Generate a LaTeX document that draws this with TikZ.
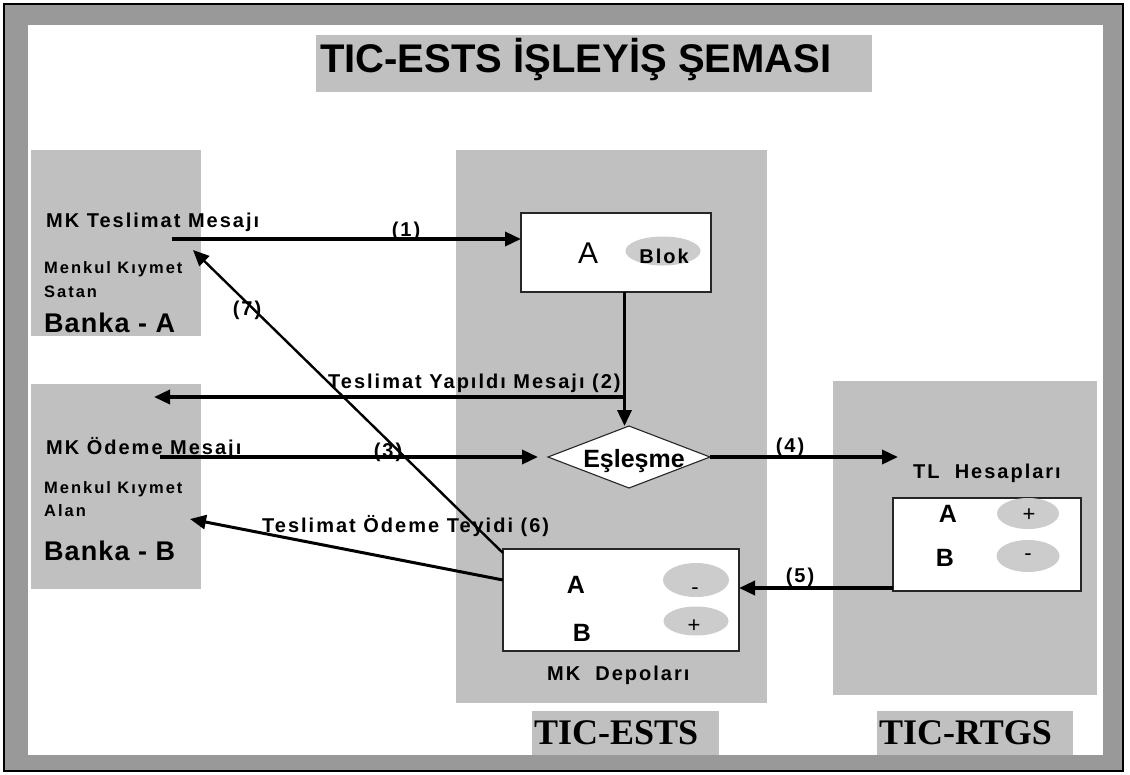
\documentclass[tikz,border=0pt]{standalone}
\usepackage{fontspec}
\setmainfont{Liberation Sans}
\newfontfamily\lsfont[LetterSpace=10]{Liberation Sans}
\newfontfamily\lsmid[LetterSpace=12]{Liberation Sans}
\newfontfamily\lsmall[LetterSpace=4]{Liberation Sans}
\newfontfamily\serifbold{Liberation Serif}
\usetikzlibrary{shapes.geometric,arrows.meta}
\definecolor{framegray}{HTML}{999999}
\definecolor{panelgray}{HTML}{C0C0C0}
\definecolor{ovalgray}{HTML}{CCCCCC}
\tikzset{
  whitebox/.style={rectangle, draw=black!85, line width=1.1pt, fill=white, inner sep=0pt, outer sep=0pt, anchor=north west},
  ovalshape/.style={ellipse, fill=ovalgray, draw=none, inner sep=0pt},
  lbl/.style={font=\lsfont\bfseries\fontsize{20}{23}\selectfont, inner sep=0pt},
  mid/.style={font=\lsmid\bfseries\fontsize{16.5}{19}\selectfont, inner sep=0pt, anchor=base west},
  bank/.style={font=\lsmall\bfseries\fontsize{27}{31}\selectfont, inner sep=0pt, anchor=base west},
  letter/.style={font=\bfseries\fontsize{25}{30}\selectfont, inner sep=0pt, anchor=base},
  sign/.style={font=\fontsize{22}{26}\selectfont, inner sep=0pt, anchor=base},
  syslabel/.style={font=\serifbold\bfseries\fontsize{36}{40}\selectfont, inner sep=0pt, anchor=base west},
  arr/.style={line width=3.5pt, -{Triangle[length=16pt,width=14pt]}},
  arrsix/.style={line width=3pt, -{Triangle[length=16pt,width=14pt]}},
  arrseven/.style={line width=2.4pt, -{Triangle[length=16pt,width=14pt]}}
}
\begin{document}
\begin{tikzpicture}[x=1pt,y=-1pt]
\path[use as bounding box] (0,0) rectangle (1130,774);
% frame
\draw[line width=2pt, fill=framegray] (3.5,3.5) rectangle (1123,771);
\fill[white] (28,25) rectangle (1103,755);
% panels
\fill[panelgray] (316,35) rectangle (872,92);
\fill[panelgray] (31,150) rectangle (201,336);
\fill[panelgray] (31,384) rectangle (201,589);
\fill[panelgray] (456,150) rectangle (767,703);
\fill[panelgray] (833,381) rectangle (1097,695);
\fill[panelgray] (532,711) rectangle (719,755);
\fill[panelgray] (877,711) rectangle (1073,755);
% title
\node[anchor=base west, inner sep=0pt, font=\bfseries\fontsize{40}{48}\selectfont] (title) at (320,72) {TIC-ESTS İŞLEYİŞ ŞEMASI};
% left texts
\node[lbl, anchor=base west] (msgA) at (46,227) {MK Teslimat Mesajı};
\node[mid] (mkA1) at (44,273) {Menkul Kıymet};
\node[mid] (mkA2) at (44,297) {Satan};
\node[bank] (bankA) at (44,332) {Banka - A};
\node[lbl, anchor=base west] (msgB) at (46,454) {MK Ödeme Mesajı};
\node[mid] (mkB1) at (44,493) {Menkul Kıymet};
\node[mid] (mkB2) at (44,516) {Alan};
\node[bank] (bankB) at (44,560) {Banka - B};
% boxes
\node[whitebox, minimum width=190pt, minimum height=79pt] (blokbox) at (521,213) {};
\node[ovalshape, minimum width=75pt, minimum height=29pt] (blokov) at (663,251) {};
\node[anchor=base, inner sep=0pt, font=\fontsize{30}{36}\selectfont] (blokA) at (588,263) {A};
\node[lbl, anchor=base] (blokt) at (664,263) {Blok};
\node[diamond, draw=black!85, line width=1.1pt, fill=white, minimum width=162pt, minimum height=62pt, inner sep=0pt, outer sep=0pt, shape aspect=2.6] (esl) at (629,457) {};
\node[font=\bfseries\fontsize{25}{28}\selectfont, anchor=base, inner sep=0pt] (eslt) at (634,467) {Eşleşme};
\node[whitebox, minimum width=236pt, minimum height=102pt] (mkbox) at (503,549) {};
\node[ovalshape, minimum width=66pt, minimum height=34pt] (mkov1) at (696,580) {};
\node[ovalshape, minimum width=65pt, minimum height=29pt] (mkov2) at (696,621) {};
\node[letter] (mkA) at (576,593) {A};
\node[letter] (mkB) at (582,641) {B};
\node[sign] (mks1) at (695,594) {-};
\node[sign] (mks2) at (694,632.5) {+};
\node[lbl, anchor=base west] (mkdep) at (547,680) {MK~~Depoları};
\node[lbl, anchor=base west] (tlh) at (913,478) {TL~~Hesapları};
\node[whitebox, minimum width=188pt, minimum height=93pt] (tlbox) at (893,498) {};
\node[ovalshape, minimum width=62pt, minimum height=31pt] (tlov1) at (1028,513.5) {};
\node[ovalshape, minimum width=63pt, minimum height=32pt] (tlov2) at (1028,556) {};
\node[letter] (tlA) at (948,522) {A};
\node[letter] (tlB) at (945,566) {B};
\node[sign] (tls1) at (1029,521) {+};
\node[sign] (tls2) at (1028,560) {-};
% system labels
\node[syslabel] (ests) at (534,744) {TIC-ESTS};
\node[syslabel] (rtgs) at (879,744) {TIC-RTGS};
% connectors
\coordinate (c1) at (172,239);
\draw[arr] (c1) -- ([yshift=13.5pt]blokbox.west);
\node[lbl, anchor=base] (l1) at (406,236) {(1)};
\coordinate (v2) at ([xshift=-4.5pt]esl.north);
\draw[arr] (v2 |- blokbox.south) -- (v2);
\coordinate (j2) at (624.5,397);
\coordinate (t2) at (154,397);
\draw[arr] (j2) -- (t2);
\node[lbl, anchor=base west] (l2) at (328,388) {Teslimat Yapıldı Mesajı (2)};
\coordinate (s3) at (160,457);
\draw[arr] (s3) -- ([xshift=-10pt]esl.west);
\node[lbl, anchor=base] (l3) at (388,457) {(3)};
\coordinate (t4) at (898,457);
\draw[arr] (esl.east) -- (t4);
\node[lbl, anchor=base] (l4) at (790,452) {(4)};
\coordinate (s5) at ([yshift=-43.5pt]tlbox.west);
\draw[arr] (s5) -- (s5 -| mkbox.east);
\node[lbl, anchor=base] (l5) at (800,582) {(5)};
\coordinate (t6) at (190,519);
\draw[arrsix] ([yshift=20pt]mkbox.west) -- (t6);
\node[lbl, anchor=base west] (l6) at (262,532) {Teslimat Ödeme Teyidi (6)};
\coordinate (t7) at (193,250);
\draw[arrseven] ([yshift=47pt]mkbox.west) -- (t7);
\node[lbl, anchor=base] (l7) at (247,315) {(7)};
\end{tikzpicture}
\end{document}
